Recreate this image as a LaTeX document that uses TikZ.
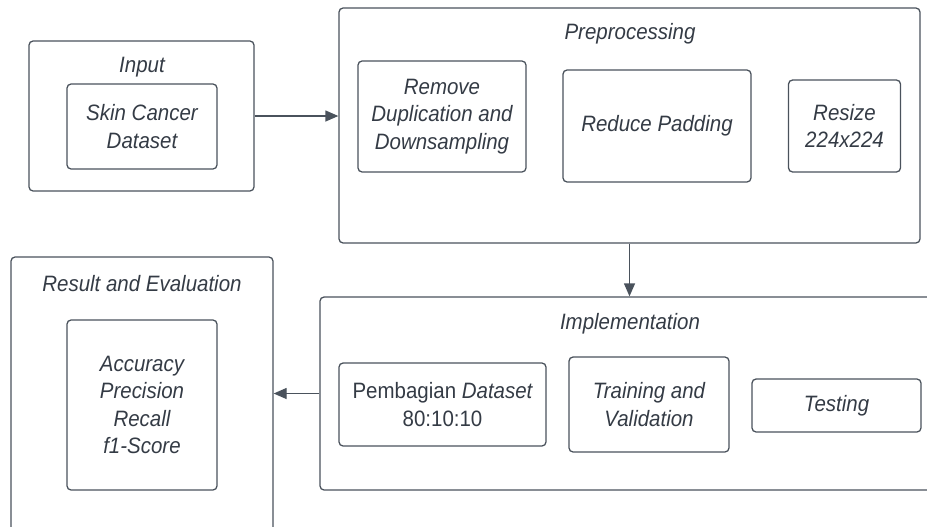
\documentclass[tikz,border=0pt]{standalone}
\usepackage{fontspec}
\setmainfont{Liberation Sans}[FakeStretch=0.92]
\usetikzlibrary{arrows.meta,positioning}

\definecolor{edgegray}{HTML}{4A525C}
\definecolor{txtgray}{HTML}{343B45}

\begin{document}
\begin{tikzpicture}[
    frame/.style={draw=edgegray, line width=1.1pt, rounded corners=3.5pt, inner sep=0pt},
    box/.style={frame, align=center, text=txtgray, font=\fontsize{19}{23.5}\selectfont\itshape},
    ttl/.style={text=txtgray, font=\fontsize{19}{23.5}\selectfont\itshape, inner sep=0pt},
    arr/.style={-{Triangle[length=0.39cm, width=0.33cm]}, draw=edgegray, fill=edgegray, line width=1.1pt}
]
\clip (0,0) rectangle (27.81,-15.78);

% input
\node[frame, minimum width=6.75cm, minimum height=4.5cm] (inp) at (4.245,-3.48) {};
\node[ttl] (inpLbl) at (4.26,-2.0) {Input};
\node[box, minimum width=4.5cm, minimum height=2.55cm] (skin) at (4.26,-3.795) {Skin Cancer\\Dataset};

% preprocessing
\node[frame, minimum width=17.43cm, minimum height=7.05cm] (pre) at (18.885,-3.765) {};
\node[ttl] (preLbl) at (18.9,-1.0) {Preprocessing};
\node[box, minimum width=5.04cm, minimum height=3.33cm] (rmv) at (13.26,-3.495) {Remove\\Duplication and\\Downsampling};
\node[box, minimum width=5.64cm, minimum height=3.36cm] (pad) at (19.71,-3.78) {Reduce Padding};
\node[box, minimum width=3.36cm, minimum height=2.76cm] (rsz) at (25.335,-3.78) {Resize\\224x224};

% implementation
\node[frame, minimum width=19.2cm, minimum height=5.79cm] (impl) at (19.2,-11.805) {};
\node[ttl] (implLbl) at (18.9,-9.7) {Implementation};
\node[box, minimum width=6.21cm, minimum height=2.49cm] (pmb) at (13.275,-12.135) {{\upshape Pembagian} Dataset\\{\upshape 80:10:10}};
\node[box, minimum width=4.8cm, minimum height=2.85cm] (trn) at (19.47,-12.135) {Training and\\Validation};
\node[box, minimum width=5.07cm, minimum height=1.59cm] (tst) at (25.095,-12.165) {Testing};

% result
\node[frame, minimum width=7.86cm, minimum height=9.39cm] (res) at (4.26,-12.405) {};
\node[ttl] (resLbl) at (4.26,-8.5) {Result and Evaluation};
\node[box, minimum width=4.5cm, minimum height=5.1cm] (acc) at (4.26,-12.15) {Accuracy\\Precision\\Recall\\f1-Score};

\draw[arr] (inp.east) -- (inp.east -| pre.west);
\draw[arr] (pre.south) -- (pre.south |- impl.north);
\draw[arr] (impl.west) -- (impl.west -| res.east);
\end{tikzpicture}
\end{document}
